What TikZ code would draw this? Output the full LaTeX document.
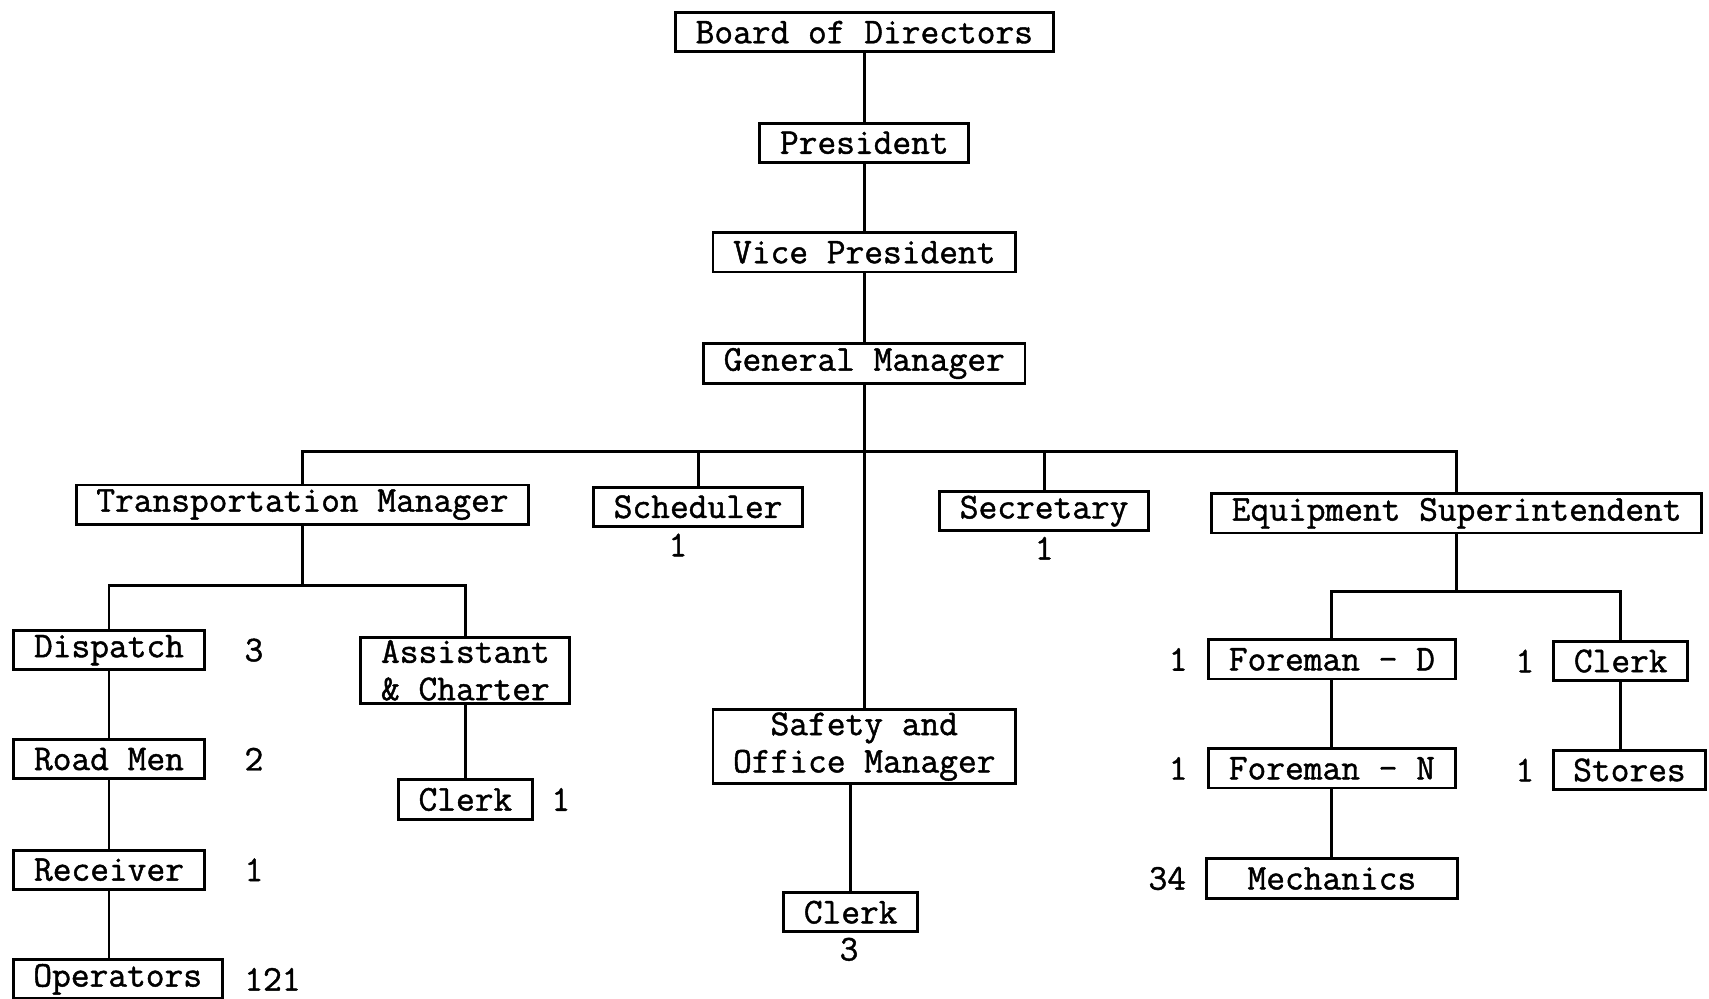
\documentclass[tikz,border=0pt]{standalone}
\usepackage{fontspec}
\setmonofont[FakeBold=1.2]{Latin Modern Mono}
\newcommand{\chartfont}{\fontsize{19}{19.5}\selectfont\ttfamily}
\tikzstyle{post} = [rectangle, draw=black, line width=1.5pt, inner xsep=0.37cm, inner ysep=1.5pt, minimum height=0.72cm, text centered, font=\chartfont]
\tikzstyle{headcount} = [inner sep=0pt, font=\chartfont]
\tikzstyle{line} = [line width=1.5pt,-]

\begin{document}
\begin{tikzpicture}[node distance=2cm]
    \useasboundingbox (-15.86,0.59) rectangle (15.5,-17.73);
    % top of the chart
    \node (board) [post] at (0,0) {Board of Directors};
    \node (pres) [post, below of=board, yshift=-0.03cm] {President};
    \node (vp) [post, below of=pres, yshift=-0.01cm] {Vice President};
    \node (gm) [post, below of=vp, yshift=-0.04cm] {General Manager};
    \coordinate [below of=gm, yshift=0.39cm] (bus);
    \node (tm) [post, below of=gm, xshift=-10.31cm, yshift=-0.59cm] {Transportation Manager};
    \node (sched) [post, right of=tm, xshift=5.26cm, yshift=-0.04cm] {Scheduler};
    \node (nsched) [headcount, below of=sched, xshift=-0.37cm, yshift=1.3cm] {1};
    \node (sec) [post, right of=sched, xshift=4.35cm, yshift=-0.08cm] {Secretary};
    \node (nsec) [headcount, below of=sec, yshift=1.32cm] {1};
    \node (es) [post, right of=sec, xshift=5.57cm, yshift=-0.04cm] {Equipment Superintendent};
    \node (safety) [post, align=center, below of=gm, yshift=-5.03cm] {Safety and\\Office Manager};
    \node (clerks) [post, below of=safety, xshift=-0.25cm, yshift=-1.04cm] {Clerk};
    \node (nclerks) [headcount, below of=clerks, xshift=-0.03cm, yshift=1.32cm] {3};
    % transportation
    \coordinate [below of=tm, yshift=0.52cm] (tmbus);
    \node (dispatch) [post, below of=tm, xshift=-3.55cm, yshift=-0.67cm] {Dispatch};
    \node (ndispatch) [headcount, right of=dispatch, xshift=0.66cm] {3};
    \node (roadmen) [post, below of=dispatch] {Road Men};
    \node (nroadmen) [headcount, right of=roadmen, xshift=0.66cm] {2};
    \node (receiver) [post, below of=roadmen, yshift=-0.03cm] {Receiver};
    \node (nreceiver) [headcount, right of=receiver, xshift=0.66cm] {1};
    \node (operators) [post, below of=receiver, xshift=0.16cm, yshift=-0.01cm] {Operators};
    \node (noperators) [headcount, right of=operators, xshift=0.84cm] {121};
    \node (asst) [post, align=center, right of=dispatch, xshift=4.54cm, yshift=-0.37cm] {Assistant\\\& Charter};
    \node (clerka) [post, below of=asst, yshift=-0.37cm] {Clerk};
    \node (nclerka) [headcount, right of=clerka, xshift=-0.25cm] {1};
    % equipment
    \coordinate [below of=es, yshift=0.56cm] (esbus);
    \node (foremand) [post, below of=es, xshift=-2.29cm, yshift=-0.68cm] {Foreman - D};
    \node (nforemand) [headcount, left of=foremand, xshift=-0.82cm] {1};
    \node (foremann) [post, below of=foremand] {Foreman - N};
    \node (nforemann) [headcount, left of=foremann, xshift=-0.82cm] {1};
    \node (mech) [post, minimum width=4.6cm, below of=foremann, yshift=-0.02cm] {Mechanics};
    \node (nmech) [headcount, left of=mech, xshift=-1.02cm] {34};
    \node (clerke) [post, right of=foremand, xshift=3.3cm, yshift=-0.03cm] {Clerk};
    \node (nclerke) [headcount, left of=clerke, xshift=0.24cm] {1};
    \node (stores) [post, below of=clerke, xshift=0.16cm] {Stores};
    \node (nstores) [headcount, left of=stores, xshift=0.08cm] {1};

    \draw [line] (board) -- (pres);
    \draw [line] (pres) -- (vp);
    \draw [line] (vp) -- (gm);
    \draw [line] (gm) -- (safety);
    \draw [line] (tm) |- (bus) -| (es);
    \draw [line] (bus -| sched) -- (sched);
    \draw [line] (bus -| sec) -- (sec);
    \draw [line] (safety.south -| clerks) -- (clerks);
    \draw [line] (tm) -- (tmbus);
    \draw [line] (dispatch) |- (tmbus) -| (asst);
    \draw [line] (dispatch) -- (roadmen);
    \draw [line] (roadmen) -- (receiver);
    \draw [line] (receiver) -- (receiver |- operators.north);
    \draw [line] (asst) -- (clerka);
    \draw [line] (es) -- (esbus);
    \draw [line] (foremand) |- (esbus) -| (clerke);
    \draw [line] (foremand) -- (foremann);
    \draw [line] (foremann) -- (mech);
    \draw [line] (clerke) -- (clerke |- stores.north);
\end{tikzpicture}
\end{document}
